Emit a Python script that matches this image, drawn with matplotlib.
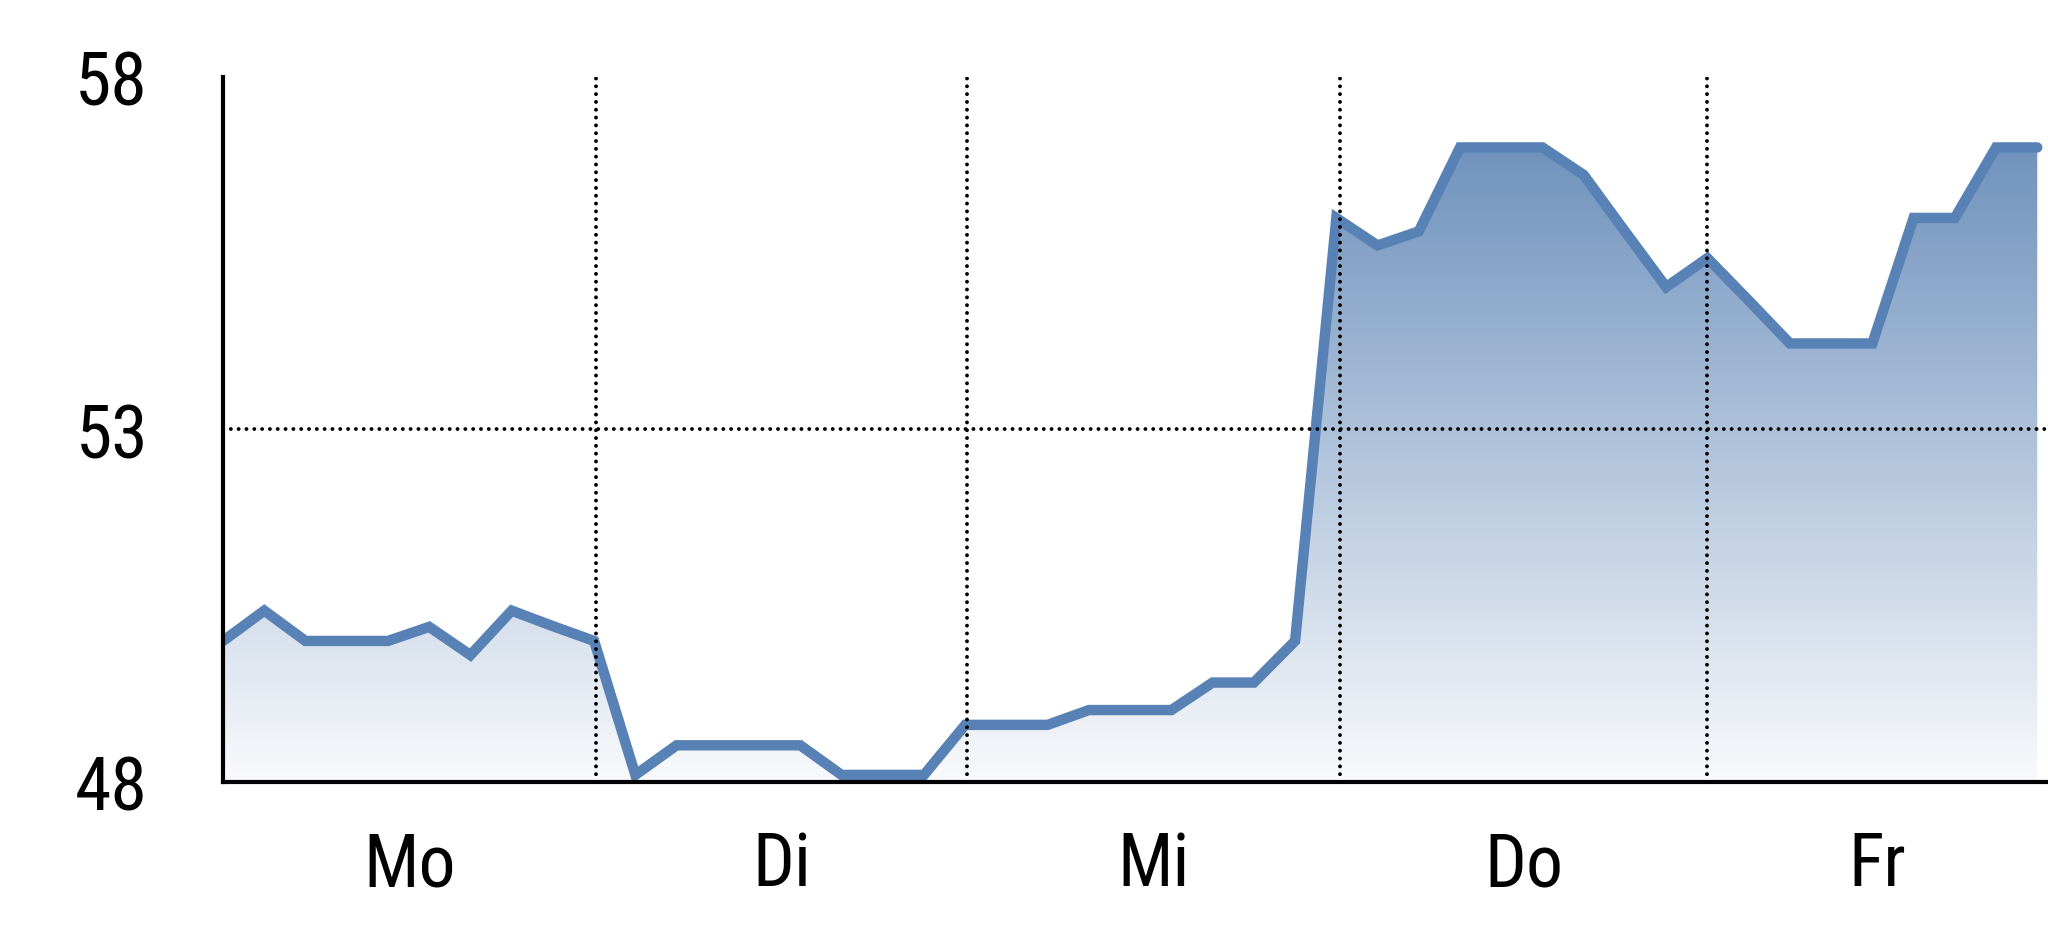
import numpy as np
import matplotlib
matplotlib.use('Agg')
import matplotlib.pyplot as plt
from matplotlib.colors import LinearSegmentedColormap
from matplotlib.patches import Polygon

plt.rcParams['font.family'] = ['Roboto Condensed', 'Liberation Sans', 'DejaVu Sans']

# values per step, 9 steps per day (Mo .. Fr)
mo = [50.0, 50.43, 50.0, 50.0, 50.0, 50.2, 49.8, 50.43, 50.21]
di = [50.0, 48.1, 48.52, 48.52, 48.52, 48.52, 48.1, 48.1, 48.1]
mi = [48.81, 48.81, 48.81, 49.02, 49.02, 49.02, 49.41, 49.41, 50.0]
do = [56.0, 55.61, 55.81, 57.0, 57.0, 57.0, 56.61, 55.81, 55.02]
fr = [55.43, 54.83, 54.22, 54.22, 54.22, 56.0, 56.0, 57.0, 57.0]
days = ['Mo', 'Di', 'Mi', 'Do', 'Fr']
y_ticks = [48, 53, 58]

vals = np.array(mo + di + mi + do + fr)
x = np.arange(len(vals))
x_max = 44.26
# day boundaries (in step units) and label centres
bounds = [9.05, 18.05, 27.1, 36.0]
edges = [0] + bounds + [x_max]
centers = [(a + b) / 2 for a, b in zip(edges[:-1], edges[1:])]

line_col = '#5882b5'

fig = plt.figure(figsize=(20.48, 9.37), dpi=100)
ax = fig.add_axes([0.1089, 0.1644, 0.8911, 0.7524])

# gradient fill under the line
verts = np.column_stack([np.r_[x, x[-1], x[0]], np.r_[vals, 48, 48]])
patch = Polygon(verts, closed=True, facecolor='none', edgecolor='none')
ax.add_patch(patch)
cmap = LinearSegmentedColormap.from_list('fill', ['#f9fafc', '#6b8fbb'])
grad = np.linspace(0, 1, 256).reshape(-1, 1)
im = ax.imshow(grad, extent=[x[0], x[-1], 48, 57.3], origin='lower',
               aspect='auto', cmap=cmap, zorder=1)
im.set_clip_path(patch)

ax.plot(x, vals, color=line_col, lw=7.5, solid_capstyle='round',
        solid_joinstyle='miter', zorder=2)

ax.set_xlim(0, x_max)
ax.set_ylim(48, 58)

ax.set_xticks(bounds)
ax.set_xticklabels([])
ax.set_xticks(centers, minor=True)
ax.set_xticklabels(days, minor=True)
ax.set_yticks(y_ticks)

ax.tick_params(axis='both', which='both', length=0, labelsize=53)
ax.tick_params(axis='y', pad=54)
ax.tick_params(axis='x', which='minor', pad=34)

ax.grid(True, which='major', color='black', lw=2.8,
        linestyle=(0, (0.01, 2.0)), dash_capstyle='round')
ax.set_axisbelow(False)
for gl, t in zip(ax.yaxis.get_gridlines(), y_ticks):
    if t != 53:
        gl.set_visible(False)

for s in ['top', 'right']:
    ax.spines[s].set_visible(False)
for s in ['left', 'bottom']:
    ax.spines[s].set_linewidth(3)
    ax.spines[s].set_color('black')

fig.savefig('out.png', dpi=100, facecolor='white')
